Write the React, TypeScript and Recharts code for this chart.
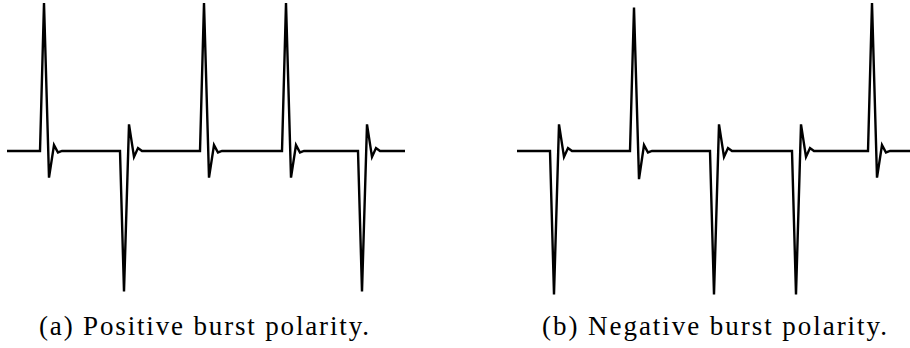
import { LineChart, Line, XAxis, YAxis } from "recharts";

// Spike trains, time in ms and amplitude normalised to the positive peak.
const timesA = [
  0, 33, 37, 42, 47, 51, 55, 113, 117, 122, 127, 131, 135, 193, 197, 202, 207, 211, 215, 275, 279,
  284, 289, 293, 297, 351, 355, 360, 365, 369, 373, 398,
];
const voltsA = [
  0, 0, 1, -0.18, 0.04, -0.01, 0, 0, -0.95, 0.18, -0.04, 0.02, 0, 0, 1, -0.18, 0.04, -0.01, 0, 0, 1,
  -0.18, 0.04, -0.01, 0, 0, -0.95, 0.18, -0.04, 0.02, 0, 0,
];

const timesB = [
  0, 33, 37, 42, 47, 51, 55, 113, 117, 122, 127, 131, 135, 193, 197, 202, 207, 211, 215, 275, 279,
  284, 289, 293, 297, 351, 355, 360, 365, 369, 373, 393,
];
const voltsB = [
  0, 0, -0.97, 0.18, -0.04, 0.02, 0, 0, 0.97, -0.19, 0.04, -0.01, 0, 0, -0.97, 0.18, -0.04, 0.02, 0,
  0, -0.97, 0.18, -0.04, 0.02, 0, 0, 1, -0.18, 0.04, -0.01, 0, 0,
];

const captions = ["(a) Positive burst polarity.", "(b) Negative burst polarity."];

const toRows = (t: number[], v: number[]) => t.map((time, i) => ({ time, v: v[i] }));

const Trace = ({ rows, left }: { rows: { time: number; v: number }[]; left: number }) => (
  <div style={{ position: "absolute", left, top: 0 }}>
    <LineChart width={400} height={300} data={rows} margin={{ top: 3, right: 0, bottom: 4, left: 0 }}>
      <XAxis dataKey="time" type="number" domain={[0, 400]} hide />
      <YAxis type="number" domain={[-0.98, 1]} hide />
      <Line
        type="linear"
        dataKey="v"
        stroke="#000"
        strokeWidth={2.4}
        dot={false}
        isAnimationActive={false}
      />
    </LineChart>
  </div>
);

export default function App() {
  return (
    <div
      style={{
        position: "fixed",
        left: 0,
        top: 0,
        width: 910,
        height: 348,
        background: "#fff",
        overflow: "hidden",
      }}
    >
      <Trace rows={toRows(timesA, voltsA)} left={7} />
      <Trace rows={toRows(timesB, voltsB)} left={517} />
      <svg width={910} height={348} style={{ position: "absolute", left: 0, top: 0 }}>
        <text
          x={39}
          y={335}
          fontFamily="'Liberation Serif', serif"
          fontSize={27}
          textLength={330}
          lengthAdjust="spacing"
          fill="#000"
        >
          {captions[0]}
        </text>
        <text
          x={542}
          y={335}
          fontFamily="'Liberation Serif', serif"
          fontSize={27}
          textLength={345}
          lengthAdjust="spacing"
          fill="#000"
        >
          {captions[1]}
        </text>
      </svg>
    </div>
  );
}
